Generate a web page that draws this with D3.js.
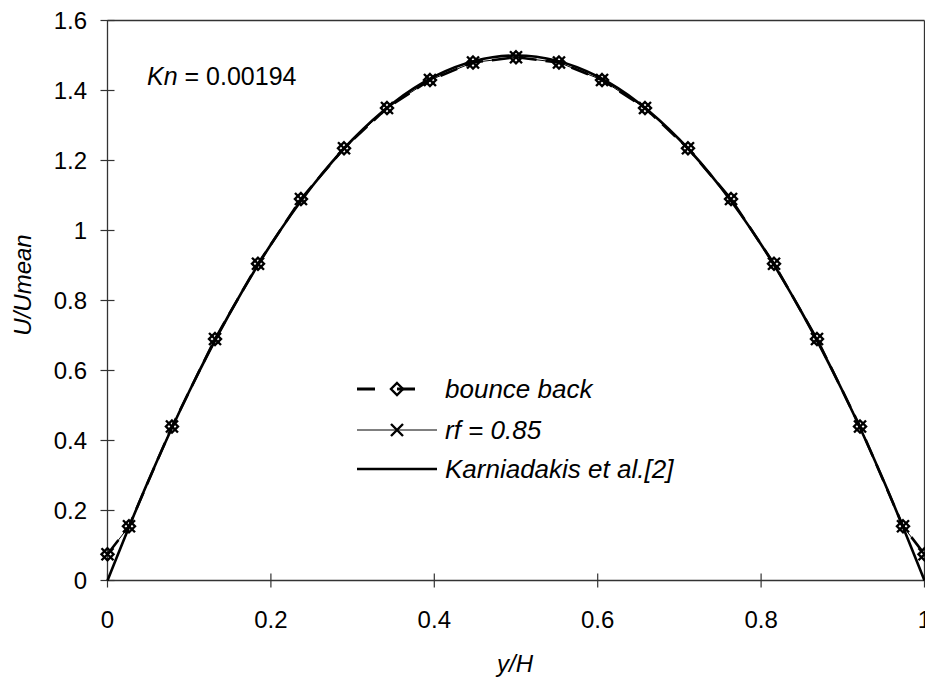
<!DOCTYPE html>
<html><head><meta charset="utf-8">
<script src="https://cdn.jsdelivr.net/npm/d3@7"></script>
<style>
body{margin:0;background:#fff;}
svg text{font-family:"Liberation Sans",Arial,Helvetica,sans-serif;fill:#000;}
</style></head>
<body><svg id="c" width="925" height="681"></svg>
<script>
// Data
const nodeY = [0, 0.0263, 0.0789, 0.1316, 0.1842, 0.2368, 0.2895, 0.3421, 0.3947, 0.4474, 0.5,
               0.5526, 0.6053, 0.6579, 0.7105, 0.7632, 0.8158, 0.8684, 0.9211, 0.9737, 1];
const bounceBack = [0.075, 0.155, 0.44, 0.69, 0.905, 1.09, 1.235, 1.35, 1.43, 1.48, 1.495,
                    1.48, 1.43, 1.35, 1.235, 1.09, 0.905, 0.69, 0.44, 0.155, 0.075];
const rf085 = [0.075, 0.155, 0.44, 0.69, 0.905, 1.09, 1.235, 1.35, 1.43, 1.48, 1.495,
               1.48, 1.43, 1.35, 1.235, 1.09, 0.905, 0.69, 0.44, 0.155, 0.075];
const theoryY = [0, 0.05, 0.1, 0.15, 0.2, 0.25, 0.3, 0.35, 0.4, 0.45, 0.5,
                 0.55, 0.6, 0.65, 0.7, 0.75, 0.8, 0.85, 0.9, 0.95, 1];
const theoryU = [0.0, 0.285, 0.54, 0.765, 0.96, 1.125, 1.26, 1.365, 1.44, 1.485, 1.5,
                 1.485, 1.44, 1.365, 1.26, 1.125, 0.96, 0.765, 0.54, 0.285, 0.0];
const xTicks = [0, 0.2, 0.4, 0.6, 0.8, 1];
const yTicks = [0, 0.2, 0.4, 0.6, 0.8, 1, 1.2, 1.4, 1.6];
const legendLabels = ["bounce back", "rf = 0.85", "Karniadakis et al.[2]"];

const svg = d3.select("#c");
const L = 107.5, R = 924.5, T = 20.5, B = 580.5;
const x = d3.scaleLinear().domain([0, 1]).range([L, R]);
const y = d3.scaleLinear().domain([0, 1.6]).range([B, T]);

// frame
const axisColor = "#333";
svg.append("line").attr("x1", L).attr("x2", R).attr("y1", T).attr("y2", T).attr("stroke", axisColor).attr("stroke-width", 1.3);
svg.append("line").attr("x1", L).attr("x2", R).attr("y1", B).attr("y2", B).attr("stroke", axisColor).attr("stroke-width", 1.6);
svg.append("line").attr("x1", L).attr("x2", L).attr("y1", T).attr("y2", B).attr("stroke", axisColor).attr("stroke-width", 1.3);
svg.append("line").attr("x1", R).attr("x2", R).attr("y1", T).attr("y2", B).attr("stroke", axisColor).attr("stroke-width", 1.3);

// y ticks
const yt = svg.append("g");
yTicks.forEach(v => {
  yt.append("line").attr("x1", L - 7).attr("x2", L + 7).attr("y1", y(v)).attr("y2", y(v)).attr("stroke", axisColor).attr("stroke-width", 1.2);
  yt.append("text").attr("x", 87).attr("y", y(v) + 8.5).attr("text-anchor", "end").attr("font-size", 24).text(d3.format("")(v));
});
// x ticks
const xt = svg.append("g");
xTicks.forEach(v => {
  xt.append("line").attr("x1", x(v)).attr("x2", x(v)).attr("y1", B - 7).attr("y2", B + 7).attr("stroke", axisColor).attr("stroke-width", 1.2);
  xt.append("text").attr("x", x(v)).attr("y", 628).attr("text-anchor", "middle").attr("font-size", 24).text(d3.format("")(v));
});

// axis titles
svg.append("text").attr("x", 515).attr("y", 672).attr("text-anchor", "middle").attr("font-size", 24).attr("font-style", "italic").text("y/H");
svg.append("text").attr("transform", "translate(31,285) rotate(-90)").attr("text-anchor", "middle").attr("font-size", 24).attr("font-style", "italic").text("U/Umean");

// Kn annotation
const kn = svg.append("text").attr("x", 147).attr("y", 85).attr("font-size", 25);
kn.append("tspan").attr("font-style", "italic").text("Kn");
kn.append("tspan").text(" = 0.00194");

// lines
const plot = svg.append("g");
const theory = theoryY.map((v, i) => [v, theoryU[i]]);
const bb = nodeY.map((v, i) => [v, bounceBack[i]]);
const rf = nodeY.map((v, i) => [v, rf085[i]]);

const smooth = d3.line().x(d => x(d[0])).y(d => y(d[1])).curve(d3.curveMonotoneX);
const poly = d3.line().x(d => x(d[0])).y(d => y(d[1]));

plot.append("path").attr("d", smooth(theory)).attr("fill", "none").attr("stroke", "#000").attr("stroke-width", 2.6);
plot.append("path").attr("d", poly(bb)).attr("fill", "none").attr("stroke", "#000").attr("stroke-width", 2.6).attr("stroke-dasharray", "18,9");
plot.append("path").attr("d", poly(rf)).attr("fill", "none").attr("stroke", "#000").attr("stroke-width", 1);

const diamond = (g, cx, cy) => g.append("path")
  .attr("d", `M${cx},${cy - 6}L${cx + 6},${cy}L${cx},${cy + 6}L${cx - 6},${cy}Z`)
  .attr("fill", "none").attr("stroke", "#000").attr("stroke-width", 2.4);
const cross = (g, cx, cy) => g.append("path")
  .attr("d", `M${cx - 6},${cy - 6}L${cx + 6},${cy + 6}M${cx - 6},${cy + 6}L${cx + 6},${cy - 6}`)
  .attr("fill", "none").attr("stroke", "#000").attr("stroke-width", 2.4);

bb.forEach(d => diamond(plot, x(d[0]), y(d[1])));
rf.forEach(d => cross(plot, x(d[0]), y(d[1])));

// legend
const lg = svg.append("g");
const lx0 = 357, lx1 = 437, ltx = 445;
const rows = [389, 430, 469];
lg.append("line").attr("x1", lx0).attr("x2", lx1).attr("y1", rows[0]).attr("y2", rows[0]).attr("stroke", "#000").attr("stroke-width", 3).attr("stroke-dasharray", "18,22");
diamond(lg, 397, rows[0]);
lg.append("line").attr("x1", lx0).attr("x2", lx1).attr("y1", rows[1]).attr("y2", rows[1]).attr("stroke", "#000").attr("stroke-width", 1);
cross(lg, 397, rows[1]);
lg.append("line").attr("x1", lx0).attr("x2", lx1).attr("y1", rows[2]).attr("y2", rows[2]).attr("stroke", "#000").attr("stroke-width", 2.6);
legendLabels.forEach((t, i) => {
  lg.append("text").attr("x", ltx).attr("y", rows[i] + 9).attr("font-size", 26).attr("font-style", "italic").text(t);
});
</script></body></html>
